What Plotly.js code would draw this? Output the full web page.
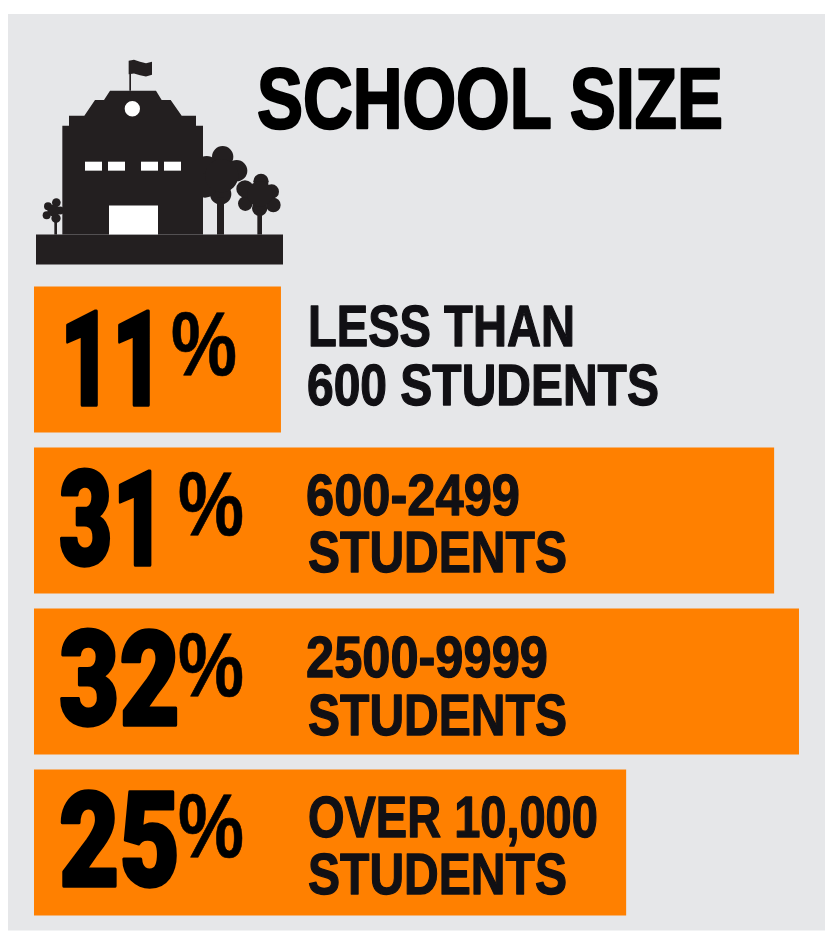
<!DOCTYPE html>
<html>
<head>
<meta charset="utf-8">
<script src="https://cdn.plot.ly/plotly-3.0.1.min.js"></script>
<style>
html,body{margin:0;padding:0;background:#fff}
#chart{width:828px;height:931px}
</style>
</head>
<body>
<div id="chart"></div>
<script>
// ---- data ----
const categories = ['Less than 600', '600-2499', '2500-9999', 'Over 10,000'];
const percentLabels = ['11', '31', '32', '25'];
// bar lengths as drawn in the picture (the 11% bar is drawn slightly short)
const barLengths = [10.33, 30.96, 32, 24.77];
const labelLine1 = ['LESS THAN', '600-2499', '2500-9999', 'OVER 10,000'];
const labelLine2 = ['600 STUDENTS', 'STUDENTS', 'STUDENTS', 'STUDENTS'];
const chartTitle = 'SCHOOL SIZE';

// ---- layout frame ----
const W = 828, H = 931, L = 34, R = 0, T = 278.5, B = 7.5;
const pw = W - L - R, ph = H - T - B;
const px = x => (x - L) / pw;
const py = y => (H - B - y) / ph;
const FONT = '"Liberation Sans", Arial, sans-serif';
const NUMFONT = 'Roboto, "Liberation Sans", Arial, sans-serif';
const ORANGE = '#FF8000', GREY = '#E6E7E9', DARK = '#231F20', INK = '#111014';

// ---- school icon (decoration), given in zoom-crop units ----
const ix = z => 30 + z / 3, iy = z => 50 + z / 3;
function polyPath(pts) {
  return pts.map((p, i) => (i ? 'L' : 'M') + px(ix(p[0])) + ',' + py(iy(p[1]))).join(' ') + ' Z';
}
function shapePoly(pts, color) {
  return {type: 'path', xref: 'paper', yref: 'paper', path: polyPath(pts),
          fillcolor: color, line: {width: 0}, layer: 'below'};
}
function shapeRect(x0, y0, x1, y1, color) {
  return {type: 'rect', xref: 'paper', yref: 'paper', x0: px(ix(x0)), x1: px(ix(x1)),
          y0: py(iy(y0)), y1: py(iy(y1)), fillcolor: color, line: {width: 0}, layer: 'below'};
}
function shapeCircle(cx, cy, r, color) {
  return Object.assign(shapeRect(cx - r, cy - r, cx + r, cy + r, color), {type: 'circle'});
}
const buildingOutline = [[97,552],[97,225],[117,225],[117,195],[163,195],[195,148],[222,148],[240,120],
  [378,120],[395,148],[422,148],[455,195],[498,195],[498,225],[519,225],[519,552]];
const flagOutline = [[296,30],[312,27],[330,33],[348,37],[366,33],[366,72],[348,77],[330,73],[312,68],[296,70]];
const windowsX = [[165,216],[234,285],[333,384],[402,453]];
const treeBlobs = [[578,318,32],[620,360,32],[530,350,34],[572,430,32],[525,405,36],[575,375,50],
  [693,392,23],[725,423,22],[730,463,22],[689,473,23],[646,459,22],[645,415,26],[690,430,38],
  [79,456,13],[54,467,12],[50,494,12],[78,503,14],[90,480,12],[70,480,18]];
const trunks = [[561,440,582,552],[682,480,696,552],[73,500,81,552]];

const shapes = [
  {type:'rect', xref:'paper', yref:'paper', x0:px(8), x1:px(825), y0:py(13), y1:py(931),
   fillcolor:GREY, line:{width:0}, layer:'below'},
  shapeRect(18,552,759,642,DARK),
  ...treeBlobs.map(b => shapeCircle(b[0],b[1],b[2],DARK)),
  ...trunks.map(t => shapeRect(t[0],t[1],t[2],t[3],DARK)),
  shapePoly(buildingOutline, DARK),
  shapeRect(298,40,303,120,DARK),
  shapePoly(flagOutline, DARK),
  shapeCircle(307,174,23,'#FFFFFF'),
  ...windowsX.map(w => shapeRect(w[0],333,w[1],360,'#FFFFFF')),
  shapeRect(237,465,384,552,'#FFFFFF')
];

// ---- text: each entry also gets a drawn width, a stroke weight for the condensed heavy look ----
const notes = [];
function note(text, x, y, size, color, width, stroke, family, weight) {
  notes.push({width, stroke, color});
  return {text, xref:'paper', yref:'paper', x:px(x), y:py(y), xanchor:'left', yanchor:'middle',
          showarrow:false, align:'left', borderpad:0,
          font:{family:family || FONT, size, color, weight:weight || 700}};
}
const numX = [59, 58, 58, 58], pctX = [170, 177, 177, 177];
const numY = [359.5, 519.5, 680.5, 841.5], pctY = [344, 504, 665, 826];
const numW = [104, 107, 121, 121];
const l1X = [307, 305, 305, 307], l2X = [306, 307, 307, 307];
const l1Y = [325, 494, 657, 817], l2Y = [384, 551, 715, 874];
const l1W = [267, 214, 242, 290], l2W = [352, 259, 259, 259];
const annotations = [note(chartTitle, 256, 97.5, 86, '#000000', 466, 2.2)];
percentLabels.forEach((p, i) => {
  annotations.push(note(p, numX[i], numY[i], 132, '#000000', numW[i], 3, NUMFONT, 900));
  annotations.push(note('%', pctX[i], pctY[i], 90, '#000000', 66, 0.6));
  annotations.push(note(labelLine1[i], l1X[i], l1Y[i], 58, INK, l1W[i], 1.2));
  annotations.push(note(labelLine2[i], l2X[i], l2Y[i], 58, INK, l2W[i], 1.2));
});

const trace = {
  type:'bar', orientation:'h', x:barLengths, y:categories,
  marker:{color:ORANGE, line:{width:0}}, hoverinfo:'skip', showlegend:false
};
const layout = {
  width:W, height:H, margin:{l:L, r:R, t:T, b:B, pad:0},
  paper_bgcolor:'#FFFFFF', plot_bgcolor:'rgba(0,0,0,0)',
  bargap:0.093, showlegend:false,
  xaxis:{range:[0, pw/23.906], visible:false, fixedrange:true, showgrid:false, zeroline:false},
  yaxis:{type:'category', categoryorder:'array', categoryarray:categories, range:[3.5,-0.5],
         visible:false, fixedrange:true, showgrid:false, zeroline:false},
  shapes, annotations
};
Plotly.newPlot('chart', [trace], layout, {displayModeBar:false, staticPlot:true}).then(gd => {
  // no condensed heavy font is installed, so squeeze and thicken the real text
  gd.querySelectorAll('.annotation-text').forEach((t, i) => {
    const n = notes[i];
    const x0 = parseFloat(t.getAttribute('x')) || 0;
    const sx = n.width / t.getComputedTextLength();
    t.setAttribute('transform', `translate(${x0} 0) scale(${sx} 1) translate(${-x0} 0)`);
    t.style.stroke = n.color;
    t.style.strokeWidth = n.stroke + 'px';
    t.style.strokeLinejoin = 'round';
    t.style.vectorEffect = 'non-scaling-stroke';
    const bg = t.parentNode.querySelector('rect.bg');
    if (bg) bg.setAttribute('width', n.width);
  });
});
</script>
</body>
</html>
